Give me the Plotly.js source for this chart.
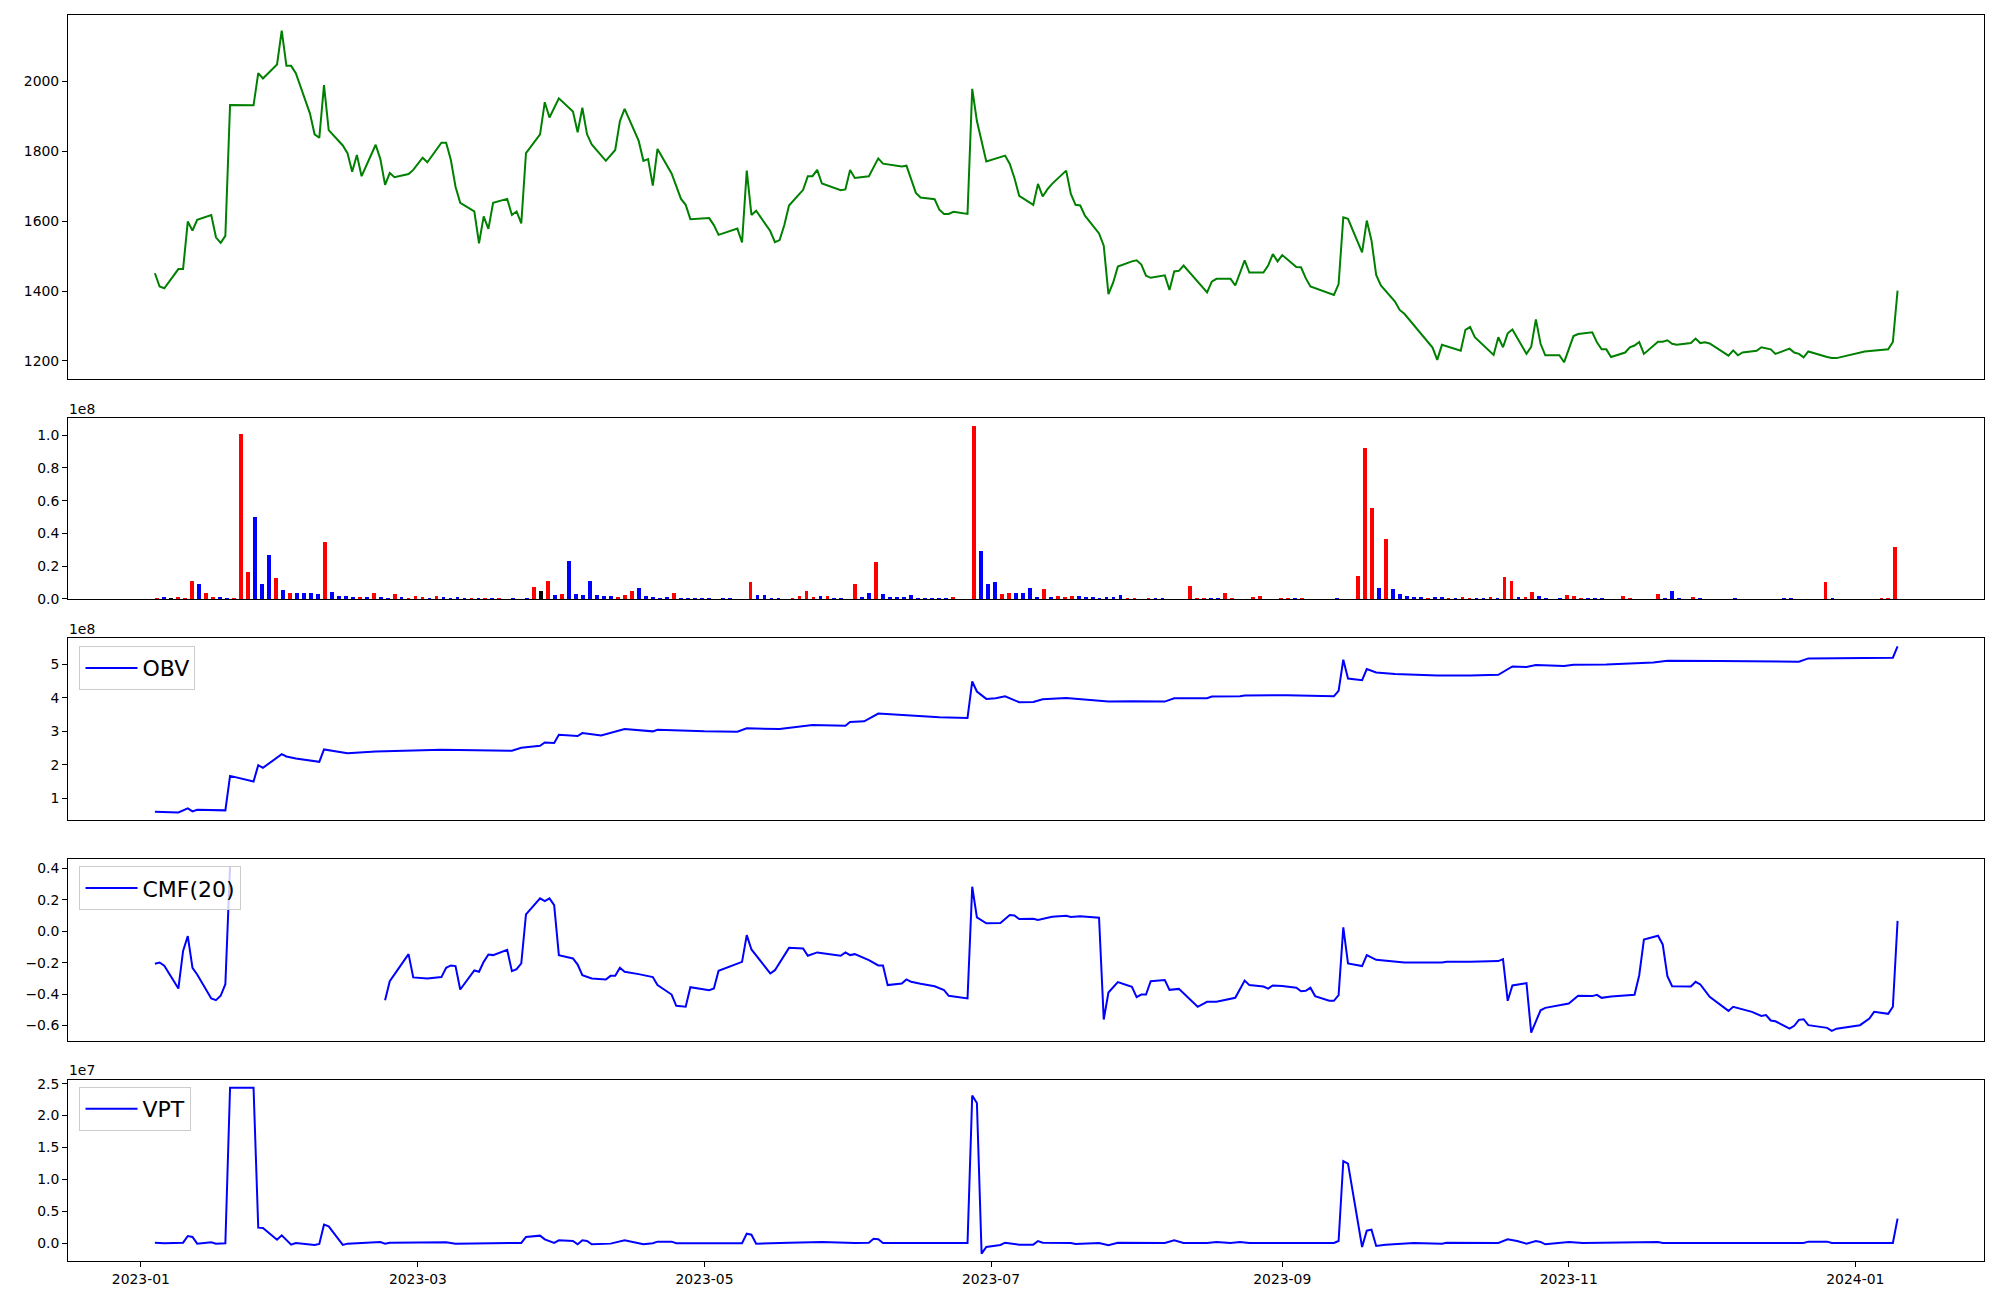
<!DOCTYPE html>
<html>
<head>
<meta charset="utf-8">
<script src="https://cdn.plot.ly/plotly-3.0.1.min.js"></script>
<style>html,body{margin:0;padding:0;background:#fff;}#chart{width:2000px;height:1300px;}</style>
</head>
<body>
<div id="chart"></div>
<script>
// ---------- Price (close) ----------
const priceDates = ['2023-01-04','2023-01-05','2023-01-06','2023-01-09','2023-01-10','2023-01-11','2023-01-12','2023-01-13','2023-01-16','2023-01-17',
'2023-01-18','2023-01-19','2023-01-20','2023-01-25','2023-01-26','2023-01-27','2023-01-30','2023-01-31','2023-02-01','2023-02-02',
'2023-02-03','2023-02-06','2023-02-07','2023-02-08','2023-02-09','2023-02-10','2023-02-13','2023-02-14','2023-02-15','2023-02-16',
'2023-02-17','2023-02-20','2023-02-21','2023-02-22','2023-02-23','2023-02-24','2023-02-27','2023-02-28','2023-03-02','2023-03-03',
'2023-03-06','2023-03-07','2023-03-08','2023-03-09','2023-03-10','2023-03-13','2023-03-14','2023-03-15','2023-03-16','2023-03-17',
'2023-03-20','2023-03-21','2023-03-22','2023-03-23','2023-03-24','2023-03-27','2023-03-28','2023-03-29','2023-03-31','2023-04-03',
'2023-04-04','2023-04-05','2023-04-06','2023-04-07','2023-04-10','2023-04-12','2023-04-13','2023-04-14','2023-04-17','2023-04-18',
'2023-04-19','2023-04-20','2023-04-21','2023-04-24','2023-04-26','2023-04-27','2023-04-28','2023-05-02','2023-05-03','2023-05-04',
'2023-05-08','2023-05-09','2023-05-10','2023-05-11','2023-05-12','2023-05-15','2023-05-16','2023-05-17','2023-05-18','2023-05-19',
'2023-05-22','2023-05-23','2023-05-24','2023-05-25','2023-05-26','2023-05-30','2023-05-31','2023-06-01','2023-06-02','2023-06-05',
'2023-06-07','2023-06-08','2023-06-12','2023-06-13','2023-06-15','2023-06-16','2023-06-19','2023-06-20','2023-06-21','2023-06-22',
'2023-06-23','2023-06-26','2023-06-27','2023-06-28','2023-06-30','2023-07-04','2023-07-05','2023-07-06','2023-07-07','2023-07-10',
'2023-07-11','2023-07-12','2023-07-13','2023-07-14','2023-07-17','2023-07-18','2023-07-19','2023-07-20','2023-07-21','2023-07-24',
'2023-07-25','2023-07-26','2023-07-27','2023-07-28','2023-07-31','2023-08-01','2023-08-02','2023-08-03','2023-08-04','2023-08-07',
'2023-08-08','2023-08-09','2023-08-10','2023-08-11','2023-08-16','2023-08-17','2023-08-18','2023-08-21','2023-08-22','2023-08-24',
'2023-08-25','2023-08-28','2023-08-29','2023-08-30','2023-08-31','2023-09-01','2023-09-04','2023-09-05','2023-09-06','2023-09-07',
'2023-09-12','2023-09-13','2023-09-14','2023-09-15','2023-09-18','2023-09-19','2023-09-20','2023-09-21','2023-09-22','2023-09-25',
'2023-09-26','2023-09-27','2023-10-03','2023-10-04','2023-10-05','2023-10-09','2023-10-10','2023-10-11','2023-10-12','2023-10-16',
'2023-10-17','2023-10-18','2023-10-19','2023-10-20','2023-10-23','2023-10-24','2023-10-25','2023-10-26','2023-10-27','2023-10-30',
'2023-10-31','2023-11-02','2023-11-03','2023-11-06','2023-11-07','2023-11-08','2023-11-09','2023-11-10','2023-11-13','2023-11-14',
'2023-11-15','2023-11-16','2023-11-17','2023-11-20','2023-11-21','2023-11-22','2023-11-23','2023-11-24','2023-11-27','2023-11-28',
'2023-11-29','2023-11-30','2023-12-01','2023-12-05','2023-12-06','2023-12-07','2023-12-08','2023-12-11','2023-12-12','2023-12-14',
'2023-12-15','2023-12-18','2023-12-19','2023-12-20','2023-12-21','2023-12-22','2023-12-26','2023-12-27','2023-12-28','2024-01-03',
'2024-01-08','2024-01-09','2024-01-10'];
const priceValues = [1451,1413,1408,1463,1463,1599,1573,1604,1618,1554,
1538,1558,1933,1932,2024,2009,2049,2146,2045,2045,
2024,1909,1849,1839,1990,1861,1817,1795,1742,1790,
1729,1819,1778,1704,1738,1726,1735,1747,1782,1769,
1825,1825,1776,1699,1653,1628,1537,1614,1578,1653,
1664,1618,1628,1594,1795,1849,1941,1897,1952,1914,
1855,1925,1849,1820,1773,1804,1887,1922,1830,1773,
1778,1702,1807,1737,1664,1647,1606,1609,1589,1561,
1579,1539,1745,1618,1630,1572,1540,1546,1589,1645,
1690,1729,1729,1747,1708,1689,1691,1747,1724,1729,
1780,1765,1757,1759,1681,1668,1663,1633,1621,1621,
1627,1621,1979,1887,1771,1788,1764,1723,1673,1647,
1707,1671,1691,1707,1745,1678,1647,1645,1616,1565,
1530,1391,1424,1470,1485,1488,1476,1444,1438,1445,
1403,1456,1458,1473,1396,1427,1435,1435,1416,1488,
1453,1453,1473,1506,1485,1503,1469,1468,1437,1413,
1389,1420,1611,1607,1511,1602,1545,1446,1416,1370,
1346,1335,1238,1203,1246,1229,1289,1297,1268,1217,
1268,1239,1279,1290,1220,1240,1319,1249,1216,1216,
1196,1271,1277,1282,1253,1233,1233,1211,1224,1239,
1244,1254,1220,1255,1255,1259,1249,1246,1251,1264,
1251,1253,1250,1215,1230,1216,1224,1229,1239,1233,
1220,1235,1224,1220,1210,1227,1211,1208,1208,1227,
1233,1254,1401];

// ---------- Volume (one bar per period, first period 2023-01-04) ----------
const volumeStart = '2023-01-04 12:15';
const volumeValues = [0.006e8,0.012e8,0.006e8,0.012e8,0.006e8,0.11e8,0.092e8,0.037e8,0.012e8,0.012e8,
0.006e8,0.006e8,1.008e8,0.165e8,0.50e8,0.092e8,0.27e8,0.128e8,0.055e8,0.037e8,
0.037e8,0.037e8,0.037e8,0.03e8,0.35e8,0.043e8,0.018e8,0.018e8,0.012e8,0.012e8,
0.012e8,0.037e8,0.012e8,0.006e8,0.03e8,0.012e8,0.006e8,0.018e8,0.012e8,0.006e8,
0.018e8,0.012e8,0.006e8,0.012e8,0.006e8,0.006e8,0.006e8,0.006e8,0.006e8,0.006e8,
0,0.006e8,0,0.006e8,0.073e8,0.049e8,0.11e8,0.024e8,0.03e8,0.232e8,
0.03e8,0.024e8,0.11e8,0.024e8,0.018e8,0.018e8,0.012e8,0.024e8,0.049e8,0.067e8,
0.018e8,0.012e8,0.006e8,0.012e8,0.037e8,0.006e8,0.006e8,0.006e8,0.006e8,0.006e8,
0,0.006e8,0.006e8,0,0,0.104e8,0.024e8,0.024e8,0.006e8,0.006e8,
0,0.006e8,0.018e8,0.049e8,0.012e8,0.018e8,0.018e8,0.006e8,0.006e8,0,
0.092e8,0.012e8,0.037e8,0.226e8,0.03e8,0.012e8,0.012e8,0.012e8,0.024e8,0.006e8,
0.006e8,0.006e8,0.006e8,0.006e8,0.012e8,0,0,1.057e8,0.293e8,0.092e8,
0.104e8,0.03e8,0.037e8,0.037e8,0.037e8,0.067e8,0.012e8,0.061e8,0.012e8,0.018e8,
0.012e8,0.018e8,0.018e8,0.012e8,0.012e8,0.006e8,0.012e8,0.012e8,0.024e8,0.006e8,
0.006e8,0,0.006e8,0.006e8,0.006e8,0,0,0,0.079e8,0.006e8,
0.006e8,0.006e8,0.006e8,0.037e8,0.006e8,0,0,0.012e8,0.018e8,0,
0,0.006e8,0.006e8,0.006e8,0.006e8,0,0,0,0,0.006e8,
0,0,0.14e8,0.923e8,0.556e8,0.067e8,0.367e8,0.061e8,0.03e8,0.018e8,
0.012e8,0.012e8,0.006e8,0.012e8,0.012e8,0.006e8,0.006e8,0.012e8,0.006e8,0.006e8,
0.006e8,0.012e8,0.006e8,0.134e8,0.11e8,0.012e8,0.012e8,0.043e8,0.018e8,0.006e8,
0,0.006e8,0.024e8,0.018e8,0.006e8,0.006e8,0.006e8,0.006e8,0,0,
0.018e8,0.006e8,0,0,0,0.03e8,0.006e8,0.049e8,0.006e8,0,
0.012e8,0.006e8,0,0,0,0,0.006e8,0,0,0,
0,0,0,0.006e8,0.006e8,0,0,0,0,0.104e8,
0.006e8,0,0,0,0,0,0,0.006e8,0.006e8,0.318e8];
// direction of each period: u = up, d = down, f = flat
const volumeDirection = ['u','d','f','u','u','u','d','u','u','d',
'd','u','u','u','d','d','d','u','d','u',
'd','d','d','d','u','d','d','d','d','u',
'd','u','d','d','u','d','u','u','u','d',
'u','d','d','d','d','u','d','u','d','u',
'u','d','u','d','u','f','u','d','u','d',
'd','d','d','d','d','d','u','u','u','d',
'd','d','d','d','u','d','d','d','d','d',
'u','d','d','u','u','u','d','d','d','d',
'u','u','u','u','u','d','u','d','d','u',
'u','d','d','u','d','d','d','d','d','d',
'd','d','d','d','u','u','u','u','d','d',
'd','u','u','d','d','d','d','u','d','u',
'u','u','d','d','d','d','d','d','d','u',
'u','u','u','d','d','u','u','u','u','u',
'u','d','d','u','u','u','u','u','u','u',
'u','u','u','d','u','u','u','u','u','d',
'u','u','u','u','u','d','u','d','d','d',
'd','d','u','d','d','u','d','u','u','d',
'd','u','d','u','u','d','u','u','d','d',
'u','d','u','u','u','d','d','d','u','u',
'u','u','u','u','u','u','d','d','d','u',
'u','d','u','u','u','u','d','u','u','u',
'u','u','u','d','d','u','u','u','u','u',
'd','u','u','u','u','u','u','u','u','u'];

// ---------- OBV ----------
const obvDates = ['2023-01-04','2023-01-09','2023-01-11','2023-01-12','2023-01-13','2023-01-19','2023-01-20','2023-01-25','2023-01-26','2023-01-27',
'2023-01-31','2023-02-01','2023-02-03','2023-02-08','2023-02-09','2023-02-14','2023-02-20','2023-03-06','2023-03-21','2023-03-23',
'2023-03-27','2023-03-28','2023-03-30','2023-03-31','2023-04-04','2023-04-05','2023-04-09','2023-04-14','2023-04-20','2023-04-21',
'2023-05-01','2023-05-08','2023-05-10','2023-05-17','2023-05-24','2023-05-31','2023-06-01','2023-06-04','2023-06-07','2023-06-13',
'2023-06-20','2023-06-26','2023-06-27','2023-06-28','2023-06-30','2023-07-02','2023-07-04','2023-07-07','2023-07-10','2023-07-12',
'2023-07-17','2023-07-26','2023-07-31','2023-08-07','2023-08-09','2023-08-16','2023-08-17','2023-08-23','2023-08-24','2023-09-02',
'2023-09-12','2023-09-13','2023-09-14','2023-09-15','2023-09-18','2023-09-19','2023-09-21','2023-09-25','2023-10-04','2023-10-11',
'2023-10-17','2023-10-20','2023-10-23','2023-10-25','2023-10-31','2023-11-02','2023-11-09','2023-11-19','2023-11-22','2023-12-03',
'2023-12-20','2023-12-22','2024-01-01','2024-01-09','2024-01-10'];
const obvValues = [0.60e8,0.58e8,0.70e8,0.61e8,0.66e8,0.64e8,1.67e8,1.50e8,1.99e8,1.91e8,
2.32e8,2.25e8,2.19e8,2.09e8,2.46e8,2.35e8,2.40e8,2.45e8,2.42e8,2.51e8,
2.57e8,2.67e8,2.65e8,2.90e8,2.86e8,2.95e8,2.88e8,3.07e8,3.00e8,3.05e8,
3.00e8,2.99e8,3.09e8,3.07e8,3.19e8,3.17e8,3.28e8,3.30e8,3.53e8,3.47e8,
3.42e8,3.40e8,4.49e8,4.19e8,3.97e8,3.99e8,4.05e8,3.87e8,3.88e8,3.96e8,
4.00e8,3.89e8,3.90e8,3.89e8,3.99e8,3.99e8,4.04e8,4.05e8,4.07e8,4.08e8,
4.05e8,4.21e8,5.14e8,4.58e8,4.53e8,4.86e8,4.76e8,4.71e8,4.67e8,4.67e8,
4.69e8,4.94e8,4.92e8,4.98e8,4.95e8,4.99e8,5.00e8,5.06e8,5.11e8,5.10e8,
5.08e8,5.18e8,5.19e8,5.20e8,5.54e8];

// ---------- CMF(20) (null = missing values) ----------
const cmfDates = ['2023-01-04','2023-01-05','2023-01-06','2023-01-09','2023-01-10','2023-01-11','2023-01-12','2023-01-13','2023-01-16','2023-01-17',
'2023-01-18','2023-01-19','2023-01-20','2023-02-01','2023-02-22','2023-02-23','2023-02-27','2023-02-28','2023-03-03','2023-03-06',
'2023-03-07','2023-03-08','2023-03-09','2023-03-10','2023-03-13','2023-03-14','2023-03-15','2023-03-16','2023-03-17','2023-03-20',
'2023-03-21','2023-03-22','2023-03-23','2023-03-24','2023-03-27','2023-03-28','2023-03-29','2023-03-30','2023-03-31','2023-04-03',
'2023-04-04','2023-04-05','2023-04-07','2023-04-10','2023-04-11','2023-04-12','2023-04-13','2023-04-14','2023-04-17','2023-04-20',
'2023-04-21','2023-04-24','2023-04-25','2023-04-27','2023-04-28','2023-05-02','2023-05-03','2023-05-04','2023-05-09','2023-05-10',
'2023-05-11','2023-05-15','2023-05-16','2023-05-19','2023-05-22','2023-05-23','2023-05-25','2023-05-30','2023-05-31','2023-06-01',
'2023-06-02','2023-06-05','2023-06-07','2023-06-08','2023-06-09','2023-06-12','2023-06-13','2023-06-14','2023-06-16','2023-06-19',
'2023-06-21','2023-06-22','2023-06-26','2023-06-27','2023-06-28','2023-06-30','2023-07-03','2023-07-05','2023-07-06','2023-07-07',
'2023-07-10','2023-07-11','2023-07-14','2023-07-17','2023-07-18','2023-07-20','2023-07-24','2023-07-25','2023-07-26','2023-07-28',
'2023-07-31','2023-08-01','2023-08-02','2023-08-03','2023-08-04','2023-08-07','2023-08-08','2023-08-10','2023-08-14','2023-08-16',
'2023-08-18','2023-08-22','2023-08-24','2023-08-25','2023-08-28','2023-08-29','2023-08-30','2023-09-01','2023-09-04','2023-09-05',
'2023-09-06','2023-09-07','2023-09-08','2023-09-11','2023-09-12','2023-09-13','2023-09-14','2023-09-15','2023-09-18','2023-09-19',
'2023-09-21','2023-09-24','2023-09-27','2023-10-05','2023-10-06','2023-10-11','2023-10-17','2023-10-18','2023-10-19','2023-10-20',
'2023-10-23','2023-10-24','2023-10-26','2023-10-27','2023-11-01','2023-11-03','2023-11-06','2023-11-07','2023-11-08','2023-11-10',
'2023-11-15','2023-11-16','2023-11-17','2023-11-20','2023-11-21','2023-11-22','2023-11-23','2023-11-27','2023-11-28','2023-11-29',
'2023-12-01','2023-12-05','2023-12-06','2023-12-10','2023-12-12','2023-12-13','2023-12-14','2023-12-15','2023-12-18','2023-12-19',
'2023-12-20','2023-12-21','2023-12-22','2023-12-26','2023-12-27','2023-12-28','2024-01-02','2024-01-04','2024-01-05','2024-01-08',
'2024-01-09','2024-01-10'];
const cmfValues = [-0.207,-0.199,-0.220,-0.365,-0.125,-0.031,-0.233,-0.275,-0.428,-0.439,
-0.411,-0.337,0.415,null,-0.439,-0.318,-0.146,-0.294,-0.301,-0.292,
-0.233,-0.218,-0.222,-0.371,-0.250,-0.258,-0.195,-0.148,-0.152,-0.118,
-0.254,-0.241,-0.205,0.107,0.209,0.192,0.209,0.166,-0.152,-0.173,
-0.212,-0.280,-0.301,-0.307,-0.284,-0.284,-0.233,-0.258,-0.273,-0.292,
-0.343,-0.403,-0.475,-0.481,-0.356,-0.375,-0.365,-0.252,-0.195,-0.025,
-0.116,-0.269,-0.248,-0.106,-0.110,-0.156,-0.135,-0.156,-0.135,-0.152,
-0.146,-0.184,-0.218,-0.218,-0.343,-0.333,-0.307,-0.322,-0.335,-0.350,
-0.375,-0.411,-0.428,0.283,0.088,0.050,0.052,0.103,0.100,0.077,
0.079,0.071,0.092,0.098,0.090,0.096,0.086,-0.562,-0.390,-0.324,
-0.354,-0.420,-0.403,-0.403,-0.318,-0.311,-0.373,-0.367,-0.481,-0.449,
-0.449,-0.424,-0.314,-0.343,-0.352,-0.365,-0.345,-0.348,-0.360,-0.382,
-0.379,-0.360,-0.413,-0.443,-0.443,-0.407,0.024,-0.205,-0.222,-0.152,
-0.182,-0.190,-0.199,-0.199,-0.195,-0.195,-0.190,-0.178,-0.443,-0.345,
-0.330,-0.645,-0.503,-0.488,-0.460,-0.411,-0.413,-0.405,-0.424,-0.416,
-0.405,-0.280,-0.053,-0.029,-0.084,-0.286,-0.350,-0.352,-0.322,-0.339,
-0.418,-0.507,-0.481,-0.513,-0.539,-0.534,-0.568,-0.573,-0.620,-0.602,
-0.564,-0.560,-0.598,-0.615,-0.634,-0.620,-0.598,-0.556,-0.513,-0.526,
-0.481,0.066];

// ---------- VPT ----------
const vptDates = ['2023-01-04','2023-01-06','2023-01-10','2023-01-11','2023-01-12','2023-01-13','2023-01-16','2023-01-17','2023-01-19','2023-01-20',
'2023-01-25','2023-01-26','2023-01-27','2023-01-30','2023-01-31','2023-02-02','2023-02-03','2023-02-06','2023-02-07','2023-02-08',
'2023-02-09','2023-02-10','2023-02-13','2023-02-14','2023-02-21','2023-02-22','2023-02-23','2023-03-07','2023-03-09','2023-03-23',
'2023-03-24','2023-03-27','2023-03-28','2023-03-30','2023-03-31','2023-04-03','2023-04-04','2023-04-05','2023-04-06','2023-04-07',
'2023-04-11','2023-04-14','2023-04-18','2023-04-20','2023-04-21','2023-04-24','2023-04-25','2023-05-09','2023-05-10','2023-05-11',
'2023-05-12','2023-05-19','2023-05-26','2023-06-02','2023-06-05','2023-06-06','2023-06-07','2023-06-08','2023-06-26','2023-06-27',
'2023-06-28','2023-06-29','2023-06-30','2023-07-03','2023-07-04','2023-07-07','2023-07-10','2023-07-11','2023-07-12','2023-07-18',
'2023-07-19','2023-07-24','2023-07-26','2023-07-28','2023-08-07','2023-08-09','2023-08-11','2023-08-16','2023-08-18','2023-08-21',
'2023-08-23','2023-08-25','2023-09-12','2023-09-13','2023-09-14','2023-09-15','2023-09-18','2023-09-19','2023-09-20','2023-09-21',
'2023-09-23','2023-09-29','2023-10-05','2023-10-06','2023-10-17','2023-10-19','2023-10-21','2023-10-23','2023-10-25','2023-10-26',
'2023-10-27','2023-11-01','2023-11-04','2023-11-20','2023-11-21','2023-12-21','2023-12-22','2023-12-26','2023-12-27','2024-01-09',
'2024-01-10'];
const vptValues = [0.010e7,0.0,0.010e7,0.114e7,0.099e7,-0.005e7,0.015e7,-0.005e7,0.0,2.436e7,
2.436e7,0.245e7,0.240e7,0.057e7,0.125e7,-0.021e7,0.005e7,-0.016e7,-0.026e7,-0.010e7,
0.292e7,0.266e7,-0.026e7,-0.005e7,0.021e7,-0.005e7,0.010e7,0.015e7,-0.005e7,0.005e7,
0.099e7,0.120e7,0.062e7,0.005e7,0.047e7,0.036e7,-0.016e7,0.047e7,0.036e7,-0.016e7,
-0.005e7,0.047e7,-0.016e7,0.0,0.026e7,0.026e7,0.0,0.0,0.151e7,0.135e7,
-0.005e7,0.010e7,0.020e7,0.005e7,0.010e7,0.070e7,0.065e7,0.005e7,0.005e7,2.316e7,
2.196e7,-0.162e7,-0.058e7,-0.026e7,0.010e7,-0.021e7,-0.021e7,0.036e7,0.010e7,0.005e7,
-0.010e7,0.005e7,-0.031e7,0.010e7,0.005e7,0.047e7,0.005e7,0.005e7,0.021e7,0.005e7,
0.021e7,0.005e7,0.005e7,0.036e7,1.288e7,1.247e7,-0.058e7,0.198e7,0.214e7,-0.042e7,
-0.021e7,0.005e7,-0.005e7,0.010e7,0.005e7,0.063e7,0.036e7,-0.005e7,0.036e7,0.021e7,
-0.016e7,0.021e7,0.005e7,0.021e7,0.005e7,0.005e7,0.026e7,0.026e7,0.005e7,0.005e7,
0.386e7];

// ---------- Tick labels ----------
const volTickVals = [0, 0.2e8, 0.4e8, 0.6e8, 0.8e8, 1.0e8];
const volTickText = ['0.0','0.2','0.4','0.6','0.8','1.0'];
const obvTickVals = [1e8, 2e8, 3e8, 4e8, 5e8];
const obvTickText = ['1','2','3','4','5'];
const vptTickVals = [0, 0.5e7, 1.0e7, 1.5e7, 2.0e7, 2.5e7];
const vptTickText = ['0.0','0.5','1.0','1.5','2.0','2.5'];

// ---------- Build ----------
const dirColor = {u: '#ff0000', d: '#0000ff', f: '#000000'};
const DAY = 86400000;

const traces = [
  {type:'scatter', mode:'lines', x: priceDates, y: priceValues, xaxis:'x', yaxis:'y',
   line:{color:'#008000', width:2}, showlegend:false, name:'Close'},
  {type:'bar', x0: volumeStart, dx: 1.486*DAY, y: volumeValues, xaxis:'x2', yaxis:'y2',
   width: 0.8*DAY, marker:{color: volumeDirection.map(d => dirColor[d]), line:{width:0}},
   showlegend:false, name:'Volume'},
  {type:'scatter', mode:'lines', x: obvDates, y: obvValues, xaxis:'x3', yaxis:'y3',
   line:{color:'#0000ff', width:2}, name:'OBV', legend:'legend'},
  {type:'scatter', mode:'lines', x: cmfDates, y: cmfValues, xaxis:'x4', yaxis:'y4',
   line:{color:'#0000ff', width:2}, name:'CMF(20)', legend:'legend2', connectgaps:false},
  {type:'scatter', mode:'lines', x: vptDates, y: vptValues, xaxis:'x5', yaxis:'y5',
   line:{color:'#0000ff', width:2}, name:'VPT', legend:'legend3'}
];

const font = {family:'DejaVu Sans, sans-serif', size:13.9, color:'#000'};
const xRange = ['2022-12-16 12:00', '2024-01-28 09:36'];
function xAx(anchor, last){
  const a = {domain:[0,1], anchor: anchor, type:'date', range: xRange, showgrid:false, zeroline:false,
    showline:true, mirror:true, linecolor:'#000', linewidth:1, tickfont: font, fixedrange:true};
  if (last) {
    Object.assign(a, {ticks:'outside', ticklen:5, tickwidth:1, tickcolor:'#000',
      tickformat:'%Y-%m', dtick:'M2', tick0:'2023-01-01', showticklabels:true});
  } else {
    Object.assign(a, {ticks:'', showticklabels:false, matches:'x5'});
  }
  return a;
}
function yAx(anchor, domain, range, extra){
  return Object.assign({domain: domain, anchor: anchor, range: range, showgrid:false, zeroline:false,
    showline:true, mirror:true, linecolor:'#000', linewidth:1, ticks:'outside', ticklen:5,
    tickwidth:1, tickcolor:'#000', tickfont: font, fixedrange:true}, extra || {});
}
const legendBase = {xanchor:'left', yanchor:'top', x:0.006, bgcolor:'rgba(255,255,255,0.8)',
  bordercolor:'#cccccc', borderwidth:1, font:{family:'DejaVu Sans, sans-serif', size:22, color:'#000'},
  itemwidth:52};

const layout = {
  width:2000, height:1300, paper_bgcolor:'#fff', plot_bgcolor:'#fff',
  margin:{l:67.5, r:15.5, t:15.3, b:39.3},
  font: font, showlegend:true, bargap:0,
  xaxis: xAx('y', false), xaxis2: xAx('y2', false), xaxis3: xAx('y3', false), xaxis4: xAx('y4', false), xaxis5: xAx('y5', true),
  yaxis: yAx('x', [0.70797, 1], [1148.5, 2190.7], {tickvals:[1200,1400,1600,1800,2000]}),
  yaxis2: yAx('x2', [0.53132, 0.67641], [0, 1.104e8], {tickvals: volTickVals, ticktext: volTickText}),
  yaxis3: yAx('x3', [0.35387, 0.49976], [0.35e8, 5.78e8], {tickvals: obvTickVals, ticktext: obvTickText}),
  yaxis4: yAx('x4', [0.17665, 0.32231], [-0.698, 0.457], {tick0:0, dtick:0.2, tickformat:'.1f'}),
  yaxis5: yAx('x5', [0, 0.14566], [-0.277e7, 2.565e7], {tickvals: vptTickVals, ticktext: vptTickText}),
  legend: Object.assign({}, legendBase, {y:0.4935}),
  legend2: Object.assign({}, legendBase, {y:0.3169}),
  legend3: Object.assign({}, legendBase, {y:0.1397}),
  annotations: [
    {text:'1e8', xref:'paper', yref:'paper', x:0, y:0.6767, xanchor:'left', yanchor:'bottom', showarrow:false, font: font, borderpad:0},
    {text:'1e8', xref:'paper', yref:'paper', x:0, y:0.5000, xanchor:'left', yanchor:'bottom', showarrow:false, font: font, borderpad:0},
    {text:'1e7', xref:'paper', yref:'paper', x:0, y:0.1459, xanchor:'left', yanchor:'bottom', showarrow:false, font: font, borderpad:0}
  ]
};

Plotly.newPlot('chart', traces, layout, {staticPlot:true, displayModeBar:false});
</script>
</body>
</html>
